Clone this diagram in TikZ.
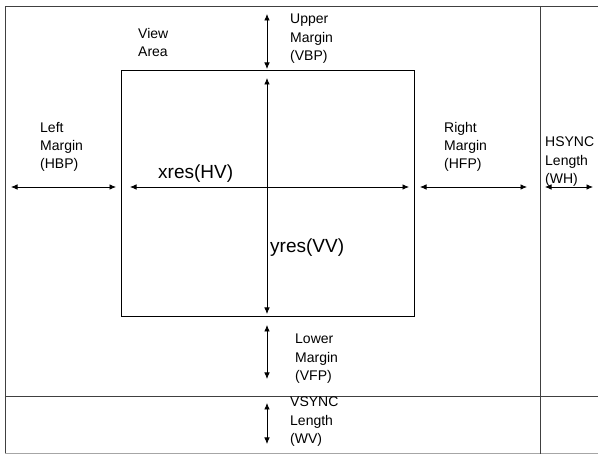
\documentclass[tikz,border=0pt]{standalone}
\usepackage{fontspec}
\setmainfont{Liberation Sans}
\usetikzlibrary{arrows.meta}
\begin{document}
\begin{tikzpicture}[x=1pt,y=-1pt,
  frame/.style={draw=black!75,line width=0.9pt},
  viewbox/.style={draw=black,line width=1.4pt},
  dim/.style={draw=black,line width=0.8pt,{Latex[length=6.5pt,width=5.5pt]}-{Latex[length=6.5pt,width=5.5pt]}},
  lbl/.style={anchor=north west,inner sep=0pt,font=\fontsize{14}{18.3}\selectfont,align=left},
  big/.style={anchor=north west,inner sep=0pt,font=\fontsize{19}{22}\selectfont}]
\useasboundingbox (0,0) rectangle (598,454);
% frame
\coordinate (tl) at (5,6);
\coordinate (tr) at (598,6);
\coordinate (bl) at (5,454);
\coordinate (hl) at (5,396);
\coordinate (hr) at (598,396);
\coordinate (vt) at (540,6);
\coordinate (vb) at (540,454);
\draw[frame] (bl) -- (tl) -- (tr);
\draw[draw=black!35,line width=0.8pt] (5,453) -- (598,453);
\draw[frame] (hl) -- (hr);
\draw[frame] (vt) -- (vb);
% view area
\node[viewbox,minimum width=293pt,minimum height=246pt,inner sep=0pt,anchor=north west] (view) at (121,70) {};
% vertical dims
\coordinate (u1) at (267,14); \coordinate (u2) at (267,69);
\coordinate (y1) at (267,78); \coordinate (y2) at (267,314);
\coordinate (l1) at (267,325); \coordinate (l2) at (267,379);
\coordinate (s1) at (267,403); \coordinate (s2) at (267,444);
\draw[dim] (u1) -- (u2);
\draw[dim] (y1) -- (y2);
\draw[dim] (l1) -- (l2);
\draw[dim] (s1) -- (s2);
% horizontal dims
\coordinate (a1) at (11,187); \coordinate (a2) at (116,187);
\coordinate (b1) at (130,187); \coordinate (b2) at (409,187);
\coordinate (c1) at (420,187); \coordinate (c2) at (527,187);
\coordinate (d1) at (545,187); \coordinate (d2) at (593,187);
\draw[dim] (a1) -- (a2);
\draw[dim] (b1) -- (b2);
\draw[dim] (c1) -- (c2);
\draw[dim] (d1) -- (d2);
% labels
\node[lbl] (tview) at (138,28) {View\\Area};
\node[lbl] (tupper) at (290,14) {Upper\\Margin\\(VBP)};
\node[lbl] (tleft) at (40,122) {Left\\Margin\\(HBP)};
\node[lbl] (tright) at (444,122) {Right\\Margin\\(HFP)};
\node[lbl] (thsync) at (545,137) {HSYNC\\Length\\(WH)};
\node[lbl] (tlower) at (295,334) {Lower\\Margin\\(VFP)};
\node[lbl] (tvsync) at (290,397) {VSYNC\\Length\\(WV)};
\node[big] (txres) at (158,165) {xres(HV)};
\node[big] (tyres) at (270,239) {yres(VV)};
\end{tikzpicture}
\end{document}
